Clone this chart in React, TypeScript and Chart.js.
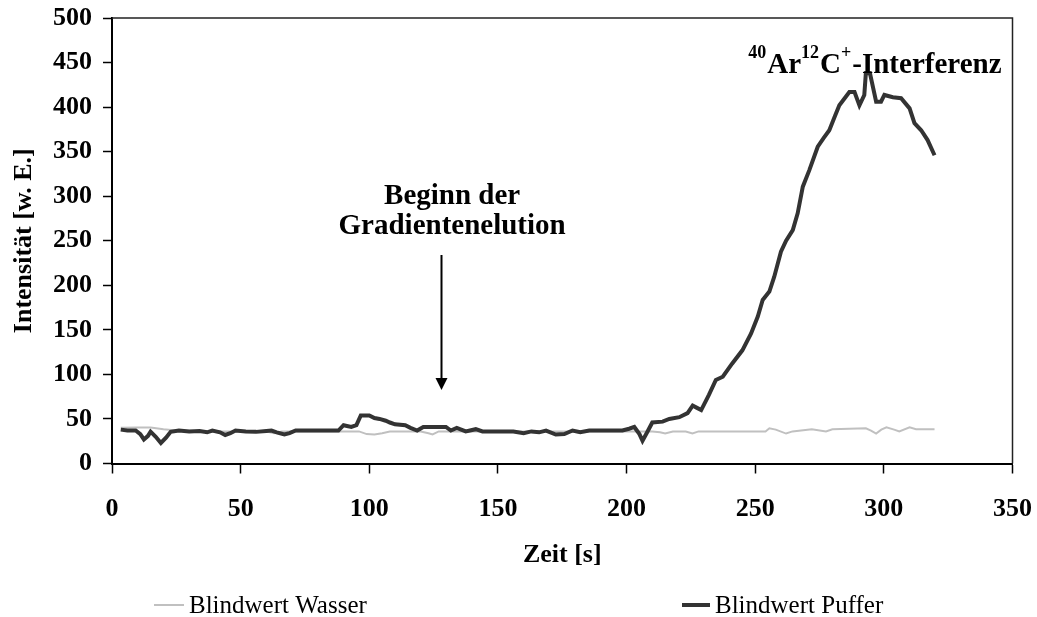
import React, { useEffect, useRef } from 'react';
import { Chart, registerables } from 'chart.js';

Chart.register(...registerables);

// ---- data ----
const seriesLabels = ['Blindwert Wasser', 'Blindwert Puffer'];

const wasserTime = [3.4, 10, 15, 20, 25, 40, 60, 63, 66, 90, 96, 99, 102, 105, 108, 120, 123, 124.6, 127, 150, 165, 180, 200, 210, 213, 215, 218, 223, 225.6, 228, 254, 255.5, 258, 262, 264.5, 272, 277.5, 280, 293, 295, 297, 299, 301, 304, 306, 310, 312.5, 319.7];
const wasserValue = [40, 40.5, 40.5, 38.5, 37, 36, 36, 34, 36, 36, 36, 33, 32.6, 34, 36, 36, 34, 32.6, 36, 36, 36, 36, 36, 36, 35, 33.6, 36, 36, 33.6, 36, 36, 39.6, 38, 33.6, 36, 38.5, 36, 38.5, 39.6, 37, 33.6, 38, 40.7, 38, 36, 40.7, 38.5, 38.5];

const pufferTime = [3.4, 6, 9.2, 11, 12.4, 14, 15, 17, 19, 21, 22.8, 26, 30, 34, 37, 39, 42, 44, 46, 48, 52, 56, 60, 62, 64, 67, 69, 71.4, 80, 88, 90, 93, 95, 96.7, 100, 102, 104, 106.4, 108, 110, 114, 116, 118.6, 121, 126, 129.8, 131.7, 134, 137.5, 141.4, 144, 150, 156, 160, 163, 166, 168.7, 172.5, 175.8, 179, 182, 185.5, 192, 198.4, 201, 203, 205, 206.2, 208, 210, 214, 216.6, 220.5, 223.7, 225.7, 227, 229, 232, 234.7, 237.4, 241, 245, 248.4, 251, 252.9, 255.5, 257.4, 260, 262, 264.6, 266.5, 268.5, 271, 274.3, 276.5, 278.8, 281, 282.7, 286.6, 288.6, 290.5, 292.4, 293, 294.6, 297, 298.9, 300.2, 303.5, 306.7, 310, 311.9, 314.5, 317, 319.7];
const pufferValue = [38, 37, 37, 33, 27, 31, 35.7, 30, 23, 29, 35.5, 37, 36, 36.5, 35, 37, 35, 32, 34, 37, 36, 35.5, 36.5, 37, 35, 32.5, 34, 37, 37, 37, 43, 41, 43, 54, 54, 51, 50, 48, 46, 44, 43, 40, 37, 41, 41, 41, 37, 40, 36, 38.5, 36, 36, 36, 34, 36, 35, 37, 32.5, 33, 37, 35, 37, 37, 37, 39, 41, 33, 25.5, 35, 46, 47, 50, 52, 56.6, 65, 63, 60, 77, 93.7, 97.4, 112, 127, 146, 165, 183.5, 193, 209.6, 237.7, 250, 262, 280.8, 310.7, 329, 355.5, 365, 374, 390, 402, 417, 417, 402, 413.6, 438, 438, 406, 406, 413.6, 411, 410, 398.6, 382, 374, 363, 346];

const xMin = 0, xMax = 350, xStep = 50;
const yMin = 0, yMax = 500, yStep = 50;

// annotation anchors in data units
const gradientText = ['Beginn der', 'Gradientenelution'];
const gradientTextAt = { x: 132.2, y: [291, 257.6] };
const arrowAt = { x: 127.8, yStart: 234, yEnd: 82.5 };
const interferenzAt = { x: 247.3, y: 438.3 };

const FONT = '"Liberation Serif", "Times New Roman", serif';

const decorPlugin = {
  id: 'decor',
  afterDatasetsDraw(chart: any) {
    const { ctx, chartArea, scales } = chart;
    const x = scales.x, y = scales.y;
    ctx.save();
    // top/right frame
    ctx.strokeStyle = '#222';
    ctx.lineWidth = 1.5;
    ctx.beginPath();
    ctx.moveTo(chartArea.left, chartArea.top);
    ctx.lineTo(chartArea.right, chartArea.top);
    ctx.lineTo(chartArea.right, chartArea.bottom);
    ctx.stroke();

    ctx.fillStyle = '#000';
    // gradient text
    ctx.font = `bold 29px ${FONT}`;
    ctx.textAlign = 'center';
    ctx.textBaseline = 'alphabetic';
    gradientText.forEach((t, i) => {
      ctx.fillText(t, x.getPixelForValue(gradientTextAt.x), y.getPixelForValue(gradientTextAt.y[i]));
    });
    // arrow
    const ax = Math.round(x.getPixelForValue(arrowAt.x)) + 0.5;
    const ay0 = y.getPixelForValue(arrowAt.yStart);
    const ay1 = y.getPixelForValue(arrowAt.yEnd);
    ctx.strokeStyle = '#000';
    ctx.lineWidth = 2;
    ctx.beginPath();
    ctx.moveTo(ax, ay0);
    ctx.lineTo(ax, ay1 - 10);
    ctx.stroke();
    ctx.beginPath();
    ctx.moveTo(ax, ay1);
    ctx.lineTo(ax - 6, ay1 - 12);
    ctx.lineTo(ax + 6, ay1 - 12);
    ctx.closePath();
    ctx.fill();

    // interferenz label with superscripts
    const parts: [string, boolean][] = [['40', true], ['Ar', false], ['12', true], ['C', false], ['+', true], ['-Interferenz', false]];
    let px = x.getPixelForValue(interferenzAt.x);
    const base = y.getPixelForValue(interferenzAt.y);
    ctx.textAlign = 'left';
    parts.forEach(([t, sup]) => {
      ctx.font = sup ? `bold 18px ${FONT}` : `bold 29px ${FONT}`;
      ctx.fillText(t, px, sup ? base - 15 : base);
      px += ctx.measureText(t).width + (sup ? 1 : 0);
    });
    ctx.restore();
  },
  afterDraw(chart: any) {
    const { ctx } = chart;
    const legendX = [154, 682];
    const legendLen = [30, 28];
    const legendY = 605;
    ctx.save();
    chart.data.datasets.forEach((ds: any, i: number) => {
      ctx.strokeStyle = ds.borderColor;
      ctx.lineWidth = ds.borderWidth;
      ctx.beginPath();
      ctx.moveTo(legendX[i], legendY);
      ctx.lineTo(legendX[i] + legendLen[i], legendY);
      ctx.stroke();
      ctx.fillStyle = '#000';
      ctx.font = `25px ${FONT}`;
      ctx.textAlign = 'left';
      ctx.textBaseline = 'middle';
      ctx.fillText(ds.label, legendX[i] + legendLen[i] + 5, legendY + 1);
    });
    ctx.restore();
  },
};

export default function App() {
  const ref = useRef<HTMLCanvasElement>(null);
  useEffect(() => {
    if (!ref.current) return;
    Chart.defaults.color = '#000';
    const chart = new Chart(ref.current, {
      type: 'line',
      data: {
        datasets: [
          {
            label: seriesLabels[0],
            data: wasserTime.map((t, i) => ({ x: t, y: wasserValue[i] })),
            borderColor: '#c0c0c0',
            borderWidth: 2,
            pointRadius: 0,
            tension: 0,
            order: 1,
          },
          {
            label: seriesLabels[1],
            data: pufferTime.map((t, i) => ({ x: t, y: pufferValue[i] })),
            borderColor: '#333333',
            borderWidth: 4,
            pointRadius: 0,
            tension: 0,
            order: 0,
          },
        ],
      },
      options: {
        responsive: false,
        animation: false,
        layout: { padding: { left: 0, top: 18, right: 24.5, bottom: 40 } },
        plugins: {
          legend: { display: false },
          tooltip: { enabled: false },
        },
        scales: {
          x: {
            type: 'linear',
            min: xMin,
            max: xMax,
            ticks: {
              stepSize: xStep,
              padding: 20,
              font: { family: FONT, size: 26, weight: 'bold' },
              color: '#000',
              maxRotation: 0,
            },
            grid: { drawOnChartArea: false, drawTicks: true, tickLength: 10, tickColor: '#000', tickWidth: 1.5 },
            border: { display: true, color: '#000', width: 2 },
            title: {
              display: true,
              text: 'Zeit [s]',
              font: { family: FONT, size: 26, weight: 'bold' },
              color: '#000',
              padding: { top: 0, bottom: 6.4 },
            },
            afterFit: (s: any) => { s.height = 113.5; s.paddingLeft = 0; s.paddingRight = 0; },
          },
          y: {
            type: 'linear',
            min: yMin,
            max: yMax,
            ticks: {
              stepSize: yStep,
              padding: 11,
              font: { family: FONT, size: 26, weight: 'bold' },
              color: '#000',
            },
            grid: { drawOnChartArea: false, drawTicks: true, tickLength: 9, tickColor: '#000', tickWidth: 1.5 },
            border: { display: true, color: '#000', width: 2 },
            title: {
              display: true,
              text: 'Intensität [w. E.]',
              font: { family: FONT, size: 26, weight: 'bold' },
              color: '#000',
              padding: { top: 9, bottom: 0 },
            },
            afterFit: (s: any) => { s.width = 112; s.paddingTop = 0; s.paddingBottom = 0; },
          },
        },
      },
      plugins: [decorPlugin],
    });
    return () => chart.destroy();
  }, []);
  return (
    <div style={{ position: 'absolute', left: 0, top: 0, width: 1037, height: 617, background: '#fff' }}>
      <canvas ref={ref} width={1037} height={617} style={{ display: 'block' }} />
    </div>
  );
}
